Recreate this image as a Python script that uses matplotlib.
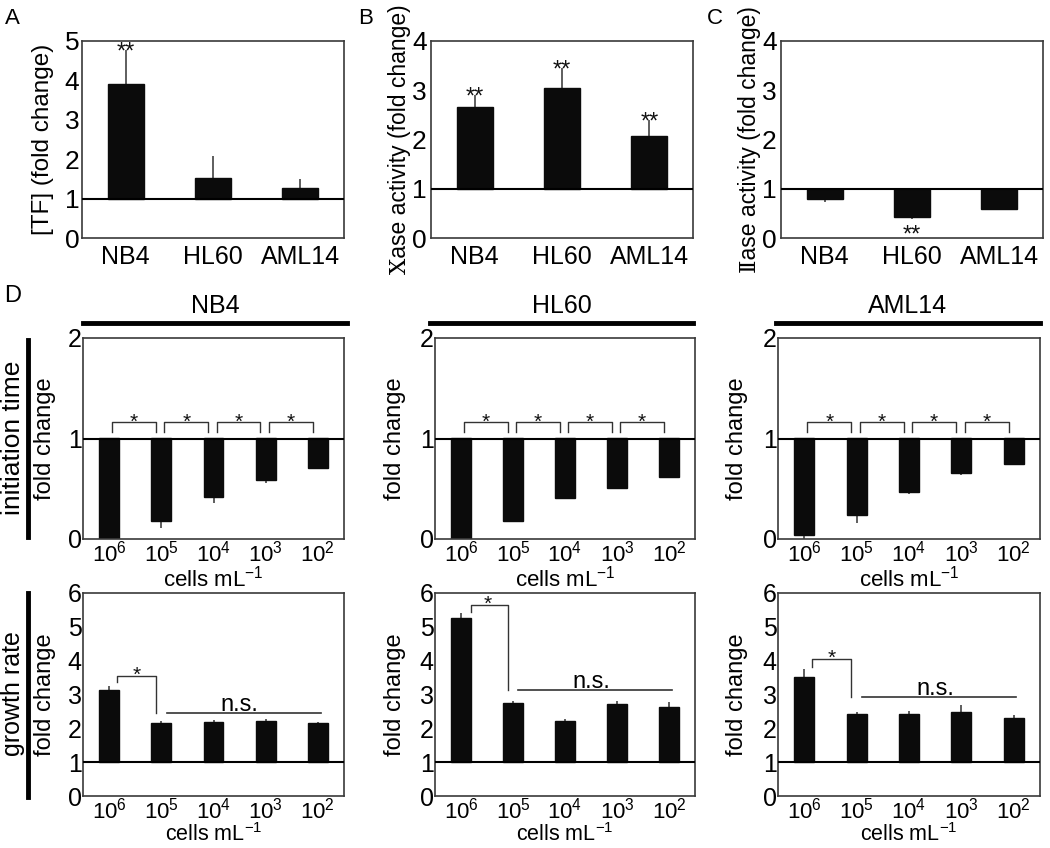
import numpy as np
import matplotlib.pyplot as plt
from matplotlib.lines import Line2D

plt.rcParams['font.family'] = ['Liberation Sans', 'DejaVu Sans']
plt.rcParams['mathtext.fontset'] = 'custom'
plt.rcParams['mathtext.rm'] = 'Liberation Sans'
plt.rcParams['mathtext.it'] = 'Liberation Sans:italic'
plt.rcParams['mathtext.bf'] = 'Liberation Sans:bold'

# Top row (A-C): fold change per cell line
cell_lines = ["NB4", "HL60", "AML14"]
tf_fold = [3.90, 1.52, 1.27]
tf_err = [0.87, 0.56, 0.22]
xase_fold = [2.65, 3.05, 2.07]
xase_err = [0.25, 0.40, 0.33]
iiase_fold = [0.79, 0.42, 0.59]
iiase_err = [0.06, 0.04, 0.03]

# Panel D: cell density series
densities = [r"$\mathregular{10^6}$", r"$\mathregular{10^5}$", r"$\mathregular{10^4}$",
             r"$\mathregular{10^3}$", r"$\mathregular{10^2}$"]

init_nb4 = [0.00, 0.18, 0.42, 0.59, 0.71]
init_nb4_err = [0.00, 0.07, 0.06, 0.03, 0.01]
init_hl60 = [0.00, 0.18, 0.41, 0.51, 0.62]
init_hl60_err = [0.00, 0.01, 0.01, 0.01, 0.01]
init_aml14 = [0.04, 0.24, 0.47, 0.66, 0.75]
init_aml14_err = [0.04, 0.08, 0.02, 0.02, 0.01]

growth_nb4 = [3.14, 2.16, 2.18, 2.22, 2.15]
growth_nb4_err = [0.11, 0.06, 0.07, 0.06, 0.05]
growth_hl60 = [5.27, 2.76, 2.22, 2.73, 2.64]
growth_hl60_err = [0.13, 0.04, 0.06, 0.07, 0.13]
growth_aml14 = [3.52, 2.43, 2.43, 2.49, 2.30]
growth_aml14_err = [0.23, 0.04, 0.07, 0.19, 0.10]

# growth panels: bracket top, left-leg bottom, n.s. line level
growth_sig = {"NB4": (3.55, 3.37, 2.45), "HL60": (5.65, 5.45, 3.14), "AML14": (4.05, 3.80, 2.93)}

W, H = 1050, 848
fig = plt.figure(figsize=(W / 100, H / 100), dpi=100)

BAR = '#0b0b0b'
LINE = '#333333'


def px_axes(l, t, r, b):
    return fig.add_axes([l / W, 1 - b / H, (r - l) / W, (b - t) / H])


def style(ax, ymax, ytick_fs, ypad):
    ax.set_ylim(0, ymax)
    ax.set_yticks(range(ymax + 1))
    ax.tick_params(axis='y', length=0, labelsize=ytick_fs, pad=ypad)
    for s in ax.spines.values():
        s.set_color('#3a3a3a')
        s.set_linewidth(1.2)
    ax.axhline(1, color='black', lw=1.5, zorder=3)


def fold_bars(ax, vals, errs, width):
    x = np.arange(len(vals))
    v = np.array(vals)
    e = np.array(errs)
    ax.bar(x, v - 1, bottom=1, width=width, color=BAR, edgecolor=BAR, zorder=2)
    up = v >= 1
    ax.errorbar(x, v, yerr=[np.where(up, 0, e), np.where(up, e, 0)], fmt='none',
                ecolor=LINE, elinewidth=1.1, capsize=0, zorder=1)
    ax.set_xlim(-0.5, len(vals) - 0.5)


def mark(ax, x, y, s, fs, dy_px=0):
    # put the centre of the asterisk glyph at (x, y) shifted by dy_px
    ax.annotate(s, (x, y), xytext=(0, dy_px * 0.72 - 0.58 * fs), textcoords='offset points',
                ha='center', va='baseline', fontsize=fs, color='#111111')


def ylabel(ax, text, fs, xfrac, **kw):
    ax.set_ylabel(text, fontsize=fs, va='center', **kw)
    ax.yaxis.set_label_coords(xfrac, 0.5)


# ---- top row
serif_fallback = ['Liberation Sans', 'DejaVu Serif']
top_specs = [
    ((82, 41, 344, 238), tf_fold, tf_err, 5, "[TF] (fold change)", 17.5, -0.149, 2, "A", 12),
    ((431, 41, 693, 238), xase_fold, xase_err, 4, "\u2169ase activity (fold change)", 16.5, -0.122, 3, "B", 366),
    ((781, 41, 1043, 238), iiase_fold, iiase_err, 4, "\u2161ase activity (fold change)", 16.5, -0.12, 3, "C", 715),
]
top_axes = []
for rect, vals, errs, ymax, ylab, yfs, labx, ypad, letter, lx in top_specs:
    ax = px_axes(*rect)
    fold_bars(ax, vals, errs, 0.41)
    style(ax, ymax, 19, ypad)
    ax.set_xticks(range(3))
    ax.set_xticklabels(cell_lines)
    ax.tick_params(axis='x', length=0, labelsize=18, pad=5)
    ylabel(ax, ylab, yfs, labx, family=serif_fallback)
    fig.text(lx / W, 1 - 18 / H, letter, fontsize=16, ha='center', va='center')
    top_axes.append(ax)

# significance marks, top row
mark(top_axes[0], 0, tf_fold[0] + tf_err[0], "**", 17, 5)
for i in range(3):
    mark(top_axes[1], i, xase_fold[i] + xase_err[i], "**", 17, 5)
mark(top_axes[2], 1, iiase_fold[1] - iiase_err[1], "**", 17, -9)

fig.text(13 / W, 1 - 296 / H, "D", fontsize=17, ha='center', va='center')

# ---- panel D
cols = [(83, 344), (435, 695), (778, 1040)]
header_lines = [(83, 347), (430, 693), (776, 1040)]
ylab_x = [-0.144, -0.154, -0.156]
init_sets = [(init_nb4, init_nb4_err), (init_hl60, init_hl60_err), (init_aml14, init_aml14_err)]
growth_sets = [(growth_nb4, growth_nb4_err), (growth_hl60, growth_hl60_err), (growth_aml14, growth_aml14_err)]

for c, name in enumerate(cell_lines):
    l, r = cols[c]
    hx0, hx1 = header_lines[c]
    fig.add_artist(Line2D([hx0 / W, hx1 / W], [1 - 323 / H] * 2, color='black', lw=3.5))
    fig.text((hx0 + hx1) / 2 / W, 1 - 306 / H, name, fontsize=18, ha='center', va='center')

    # initiation time
    ax = px_axes(l, 338, r, 539)
    vals, errs = init_sets[c]
    fold_bars(ax, vals, errs, 0.38)
    style(ax, 2, 18, 1)
    ax.set_xticks(range(5))
    ax.set_xticklabels(densities)
    ax.tick_params(axis='x', length=0, labelsize=16, pad=1)
    ylabel(ax, "fold change", 17, ylab_x[c])
    for i in range(4):
        ax.plot([i + 0.06, i + 0.06, i + 0.9, i + 0.9], [1.06, 1.16, 1.16, 1.06], color=LINE, lw=1)
        mark(ax, i + 0.48, 1.23, "*", 15)
    fig.text((l + r) / 2 / W, 1 - 579 / H, r"cells $\mathregular{mL^{-1}}$", fontsize=16,
             ha='center', va='center')

    # growth rate
    ax = px_axes(l, 593, r, 796)
    vals, errs = growth_sets[c]
    fold_bars(ax, vals, errs, 0.38)
    style(ax, 6, 18, 1)
    ax.set_xticks(range(5))
    ax.set_xticklabels(densities)
    ax.tick_params(axis='x', length=0, labelsize=16, pad=1)
    ylabel(ax, "fold change", 17, ylab_x[c])
    top, left_bot, ns = growth_sig[name]
    x0 = 0.2 if name == "HL60" else 0.15
    ax.plot([x0, x0, 0.9, 0.9], [left_bot, top, top, ns], color=LINE, lw=1)
    mark(ax, 0.52, top + 0.2, "*", 15)
    ax.plot([1.1, 4.05], [ns, ns], color=LINE, lw=1.2)
    ax.annotate("n.s.", (2.5, ns), xytext=(0, 1.5), textcoords='offset points',
                ha='center', va='baseline', fontsize=17)
    fig.text((l + r) / 2 / W, 1 - 835 / H, r"cells $\mathregular{mL^{-1}}$", fontsize=15.5,
             ha='center', va='center')

# row labels on the left
fig.text(13 / W, 1 - 438 / H, "initiation time", rotation=90, fontsize=19, ha='center', va='center')
fig.add_artist(Line2D([28 / W] * 2, [1 - 340 / H, 1 - 537 / H], color='black', lw=3.5))
fig.text(13 / W, 1 - 694 / H, "growth rate", rotation=90, fontsize=18, ha='center', va='center')
fig.add_artist(Line2D([28 / W] * 2, [1 - 593 / H, 1 - 797 / H], color='black', lw=3.5))

fig.savefig("out.png", dpi=100)
